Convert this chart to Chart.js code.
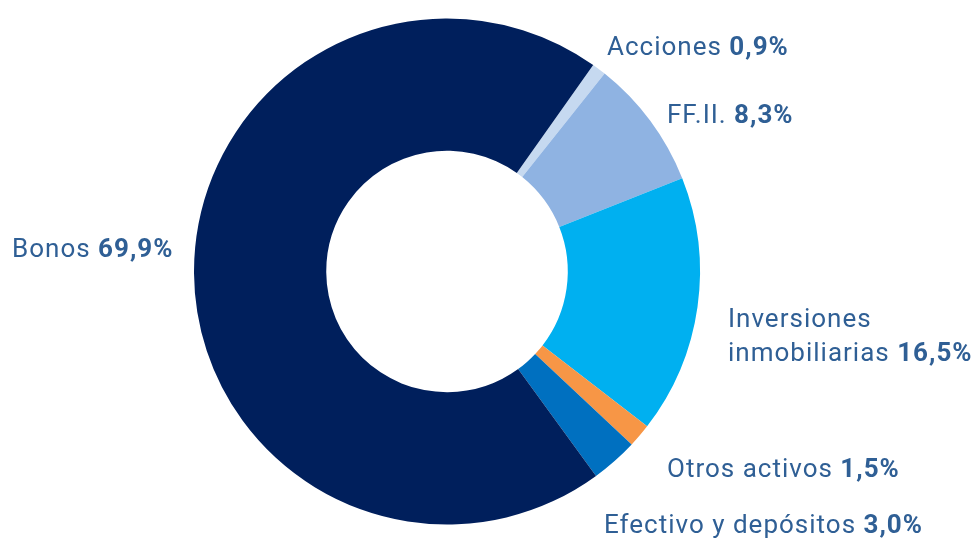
<!DOCTYPE html>
<html>
<head>
<meta charset="utf-8">
<script src="https://cdn.jsdelivr.net/npm/chart.js@4"></script>
<style>
  html, body { margin: 0; padding: 0; background: #fff; }
  #wrap { width: 978px; height: 541px; }
</style>
</head>
<body>
<div id="wrap"><canvas id="dona"></canvas></div>
<script>
// datos del gráfico
const categorias = ["Acciones", "FF.II.", "Inversiones inmobiliarias", "Otros activos", "Efectivo y depósitos", "Bonos"];
const porcentajes = [0.9, 8.3, 16.5, 1.5, 3.0, 69.9];
const colores = ["#c6d9f0", "#8fb3e2", "#00b0f0", "#f79646", "#0070c0", "#001f5c"];

// donde va cada etiqueta (x izquierda, línea base); Inversiones va en dos líneas
const posEtiquetas = [
  { x: 607, y: 55, lineas: ["Acciones"] },
  { x: 667, y: 123, lineas: ["FF.II."] },
  { x: 728, y: 327, lineas: ["Inversiones", "inmobiliarias"] },
  { x: 667, y: 477, lineas: ["Otros activos"] },
  { x: 604, y: 533, lineas: ["Efectivo y depósitos"] },
  { x: 12, y: 257, lineas: ["Bonos"] }
];

const colorTexto = "#2f5f95";
const fuente = "Roboto, 'Noto Sans', sans-serif";
const tamano = 26;

const etiquetasPlugin = {
  id: "etiquetas",
  afterDraw(chart) {
    const ctx = chart.ctx;
    ctx.save();
    ctx.fillStyle = colorTexto;
    ctx.textBaseline = "alphabetic";
    ctx.textAlign = "left";
    ctx.letterSpacing = "1px";
    porcentajes.forEach((valor, i) => {
      const p = posEtiquetas[i];
      const txtValor = valor.toLocaleString("es-ES", { minimumFractionDigits: 1, maximumFractionDigits: 1 }) + "%";
      p.lineas.forEach((linea, j) => {
        const y = p.y + j * 34;
        ctx.font = "400 " + tamano + "px " + fuente;
        ctx.fillText(linea, p.x, y);
        if (j === p.lineas.length - 1) {
          const w = ctx.measureText(linea + " ").width;
          ctx.font = "700 " + tamano + "px " + fuente;
          ctx.fillText(txtValor, p.x + w, y);
        }
      });
    });
    ctx.restore();
  }
};

const ctx = document.getElementById("dona");
window.myChart = new Chart(ctx, {
  type: "doughnut",
  data: {
    labels: categorias,
    datasets: [
      {
        data: porcentajes,
        backgroundColor: colores,
        borderWidth: 0,
        hoverOffset: 0
      }
    ]
  },
  options: {
    responsive: true,
    maintainAspectRatio: false,
    animation: false,
    rotation: 35.3,
    radius: 253,
    cutout: 121,
    layout: { padding: { left: 193, right: 277, top: 18, bottom: 16 } },
    plugins: {
      legend: { display: false },
      tooltip: { enabled: false }
    }
  },
  plugins: [etiquetasPlugin]
});
</script>
</body>
</html>
